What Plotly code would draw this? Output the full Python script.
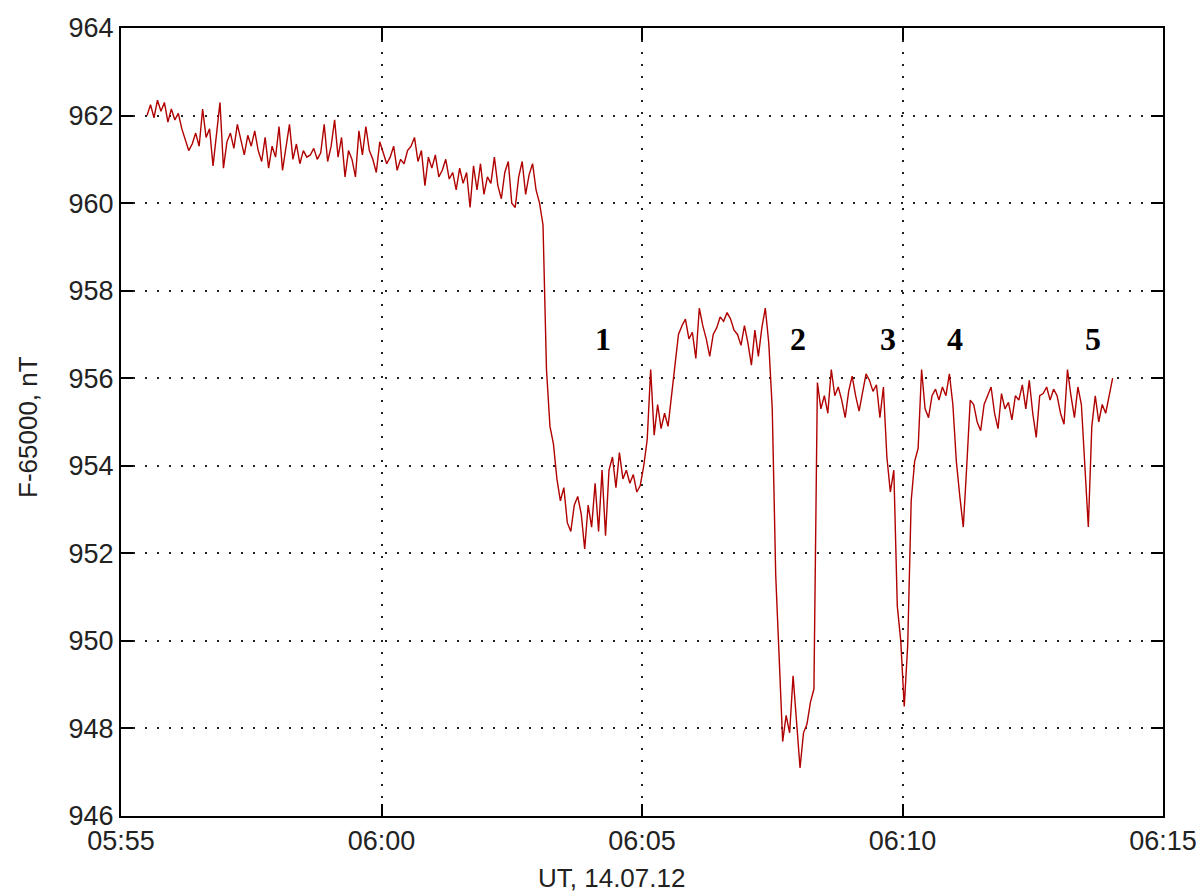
import numpy as np
import pandas as pd
import plotly.graph_objects as go

# Total field F minus 65000 nT, sampled every 4 s from 05:55:30 UT, 14.07.2012
start_time = "2012-07-14 05:55:30"
sample_step_s = 4

field_nT = [
    # 05:55:30 - quiet, slowly decreasing background
    962.0, 962.25, 961.95, 962.35, 962.1, 962.3, 961.85, 962.15, 961.9, 962.05,
    961.7, 961.45, 961.2, 961.35, 961.6, 961.3, 962.15, 961.5, 961.7, 960.85, 961.6, 962.3,
    960.8, 961.4, 961.6, 961.25, 961.8, 961.45, 961.1, 961.55, 961.3, 961.65,
    961.2, 960.95, 961.5, 960.8, 961.3, 961.05, 961.75, 960.75, 961.25, 961.8, 961.0, 961.35, 960.9, 961.2, 961.05,
    961.1, 961.25, 961.0, 961.15, 961.8, 960.95, 961.3, 961.9, 961.05, 961.5, 960.6,
    961.2, 961.0, 960.6, 961.65, 961.1, 961.75, 961.2, 961.0, 960.7, 961.4,
    961.15, 960.9, 961.05, 961.3, 960.75, 961.0, 960.9, 961.2, 961.3, 961.5, 960.95, 961.2, 960.4, 961.05, 960.8,
    961.1, 960.6, 960.75, 961.0, 960.55, 960.7, 960.3, 960.8, 960.45, 960.7, 959.9,
    960.85, 960.3, 960.9, 960.2, 960.6, 960.45, 961.05, 960.4, 960.1, 960.7, 960.95, 960.0,
    959.9, 960.6, 960.95, 960.2, 960.65, 960.9,
    # ~06:03 - sharp drop, event 1
    960.3, 960.0, 959.5, 956.2, 954.9, 954.5, 953.7,
    953.2, 953.5, 952.7, 952.5, 953.1,
    953.3, 952.9, 952.1, 953.1, 952.6, 953.6, 952.5, 953.9, 952.4,
    953.9, 954.2, 953.5, 954.3, 953.7, 953.9, 953.6, 953.8, 953.4, 953.55,
    # ~06:05 - recovery
    954.0, 954.6, 956.2, 954.7, 955.4, 954.85, 955.2, 954.9, 955.6, 956.2, 957.0,
    957.2, 957.35, 956.9, 957.05, 956.45, 957.6, 957.2, 956.9, 956.5, 957.0,
    957.15, 957.4, 957.3, 957.5, 957.35, 957.1, 957.0, 956.75, 957.2, 956.8,
    956.3, 957.1, 956.5, 957.15, 957.6, 956.8,
    # ~06:07:30 - event 2
    955.3, 951.5, 949.6, 947.7, 948.3, 947.9, 949.2, 948.1, 947.1, 947.9,
    948.1, 948.6, 948.9,
    955.9, 955.3, 955.6, 955.2,
    956.2, 955.6, 955.8, 955.5, 955.1, 955.7, 956.05, 955.6, 955.25, 955.7,
    956.1, 955.95, 955.7, 955.85, 955.1, 955.8,
    # ~06:09:30 - event 3
    954.2, 953.4, 953.9, 950.8, 950.0, 948.5, 949.9, 953.2, 954.1, 954.4,
    956.2, 955.3, 955.1, 955.6, 955.75, 955.5, 955.8, 955.6, 956.1, 955.4,
    # ~06:11 - event 4
    954.1, 953.3, 952.6, 954.0, 955.5,
    955.4, 955.0, 954.8, 955.4, 955.6, 955.8, 955.2, 954.85, 955.65, 955.3,
    955.45, 955.05, 955.6, 955.5, 955.85, 955.3, 955.95, 955.2, 954.65, 955.6,
    955.65, 955.8, 955.5, 955.75, 955.6, 955.2, 954.95, 956.2, 955.6, 955.1,
    955.8, 955.4,
    # ~06:13:30 - event 5
    954.0, 952.6, 954.9, 955.6, 955.0, 955.4, 955.2, 955.6, 956.0,
]

# Event markers drawn above the trace
event_labels = ["1", "2", "3", "4", "5"]
event_times = ["2012-07-14 06:04:15", "2012-07-14 06:08:00", "2012-07-14 06:09:43",
               "2012-07-14 06:11:00", "2012-07-14 06:13:39"]
event_level = 956.9

y_ticks = list(range(946, 965, 2))
x_ticks = ["2012-07-14 05:55", "2012-07-14 06:00", "2012-07-14 06:05",
           "2012-07-14 06:10", "2012-07-14 06:15"]
x_tick_labels = ["05:55", "06:00", "06:05", "06:10", "06:15"]

W, H = 1203, 894
M_L, M_R, M_T, M_B = 121, 40, 28, 78

times = pd.Timestamp(start_time) + pd.to_timedelta(
    np.arange(len(field_nT)) * sample_step_s, unit="s")

fig = go.Figure()
fig.add_trace(go.Scatter(
    x=times, y=field_nT, mode="lines",
    line=dict(color="#b00000", width=1.4),
    showlegend=False,
))

for label, t in zip(event_labels, event_times):
    fig.add_annotation(
        x=t, y=event_level, text=f"<b>{label}</b>", showarrow=False,
        font=dict(family="Liberation Serif, Times New Roman, serif", size=32, color="black"),
    )

title_font = dict(family="Liberation Sans, Arial, sans-serif", size=26, color="#222222")

# Axis titles placed in paper coordinates (pixel offsets converted to fractions)
plot_w = W - M_L - M_R
plot_h = H - M_T - M_B
fig.add_annotation(
    text="UT, 14.07.12", showarrow=False, font=title_font,
    xref="paper", yref="paper",
    x=(611 - M_L) / plot_w, y=-(878 - (H - M_B)) / plot_h,
    xanchor="center", yanchor="middle",
)
fig.add_annotation(
    text="F-65000, nT", showarrow=False, font=title_font, textangle=-90,
    xref="paper", yref="paper",
    x=(28 - M_L) / plot_w, y=((H - M_B) - 427) / plot_h,
    xanchor="center", yanchor="middle",
)

axis_common = dict(
    showline=True, linecolor="black", linewidth=2, mirror="ticks",
    ticks="inside", ticklen=12, tickwidth=1.5, tickcolor="black",
    showgrid=True, gridcolor="#222222", gridwidth=1.5, griddash="2px,10px",
    zeroline=False, automargin=False,
    tickfont=dict(family="Liberation Sans, Arial, sans-serif", size=27, color="#222222"),
)

fig.update_xaxes(
    type="date",
    range=["2012-07-14 05:55", "2012-07-14 06:15"],
    tickvals=x_ticks, ticktext=x_tick_labels,
    **axis_common,
)
fig.update_yaxes(
    range=[946, 964],
    tickvals=y_ticks,
    **axis_common,
)

fig.update_layout(
    width=W, height=H,
    margin=dict(l=M_L, r=M_R, t=M_T, b=M_B),
    paper_bgcolor="white", plot_bgcolor="white",
)

fig.write_html("out.html")
